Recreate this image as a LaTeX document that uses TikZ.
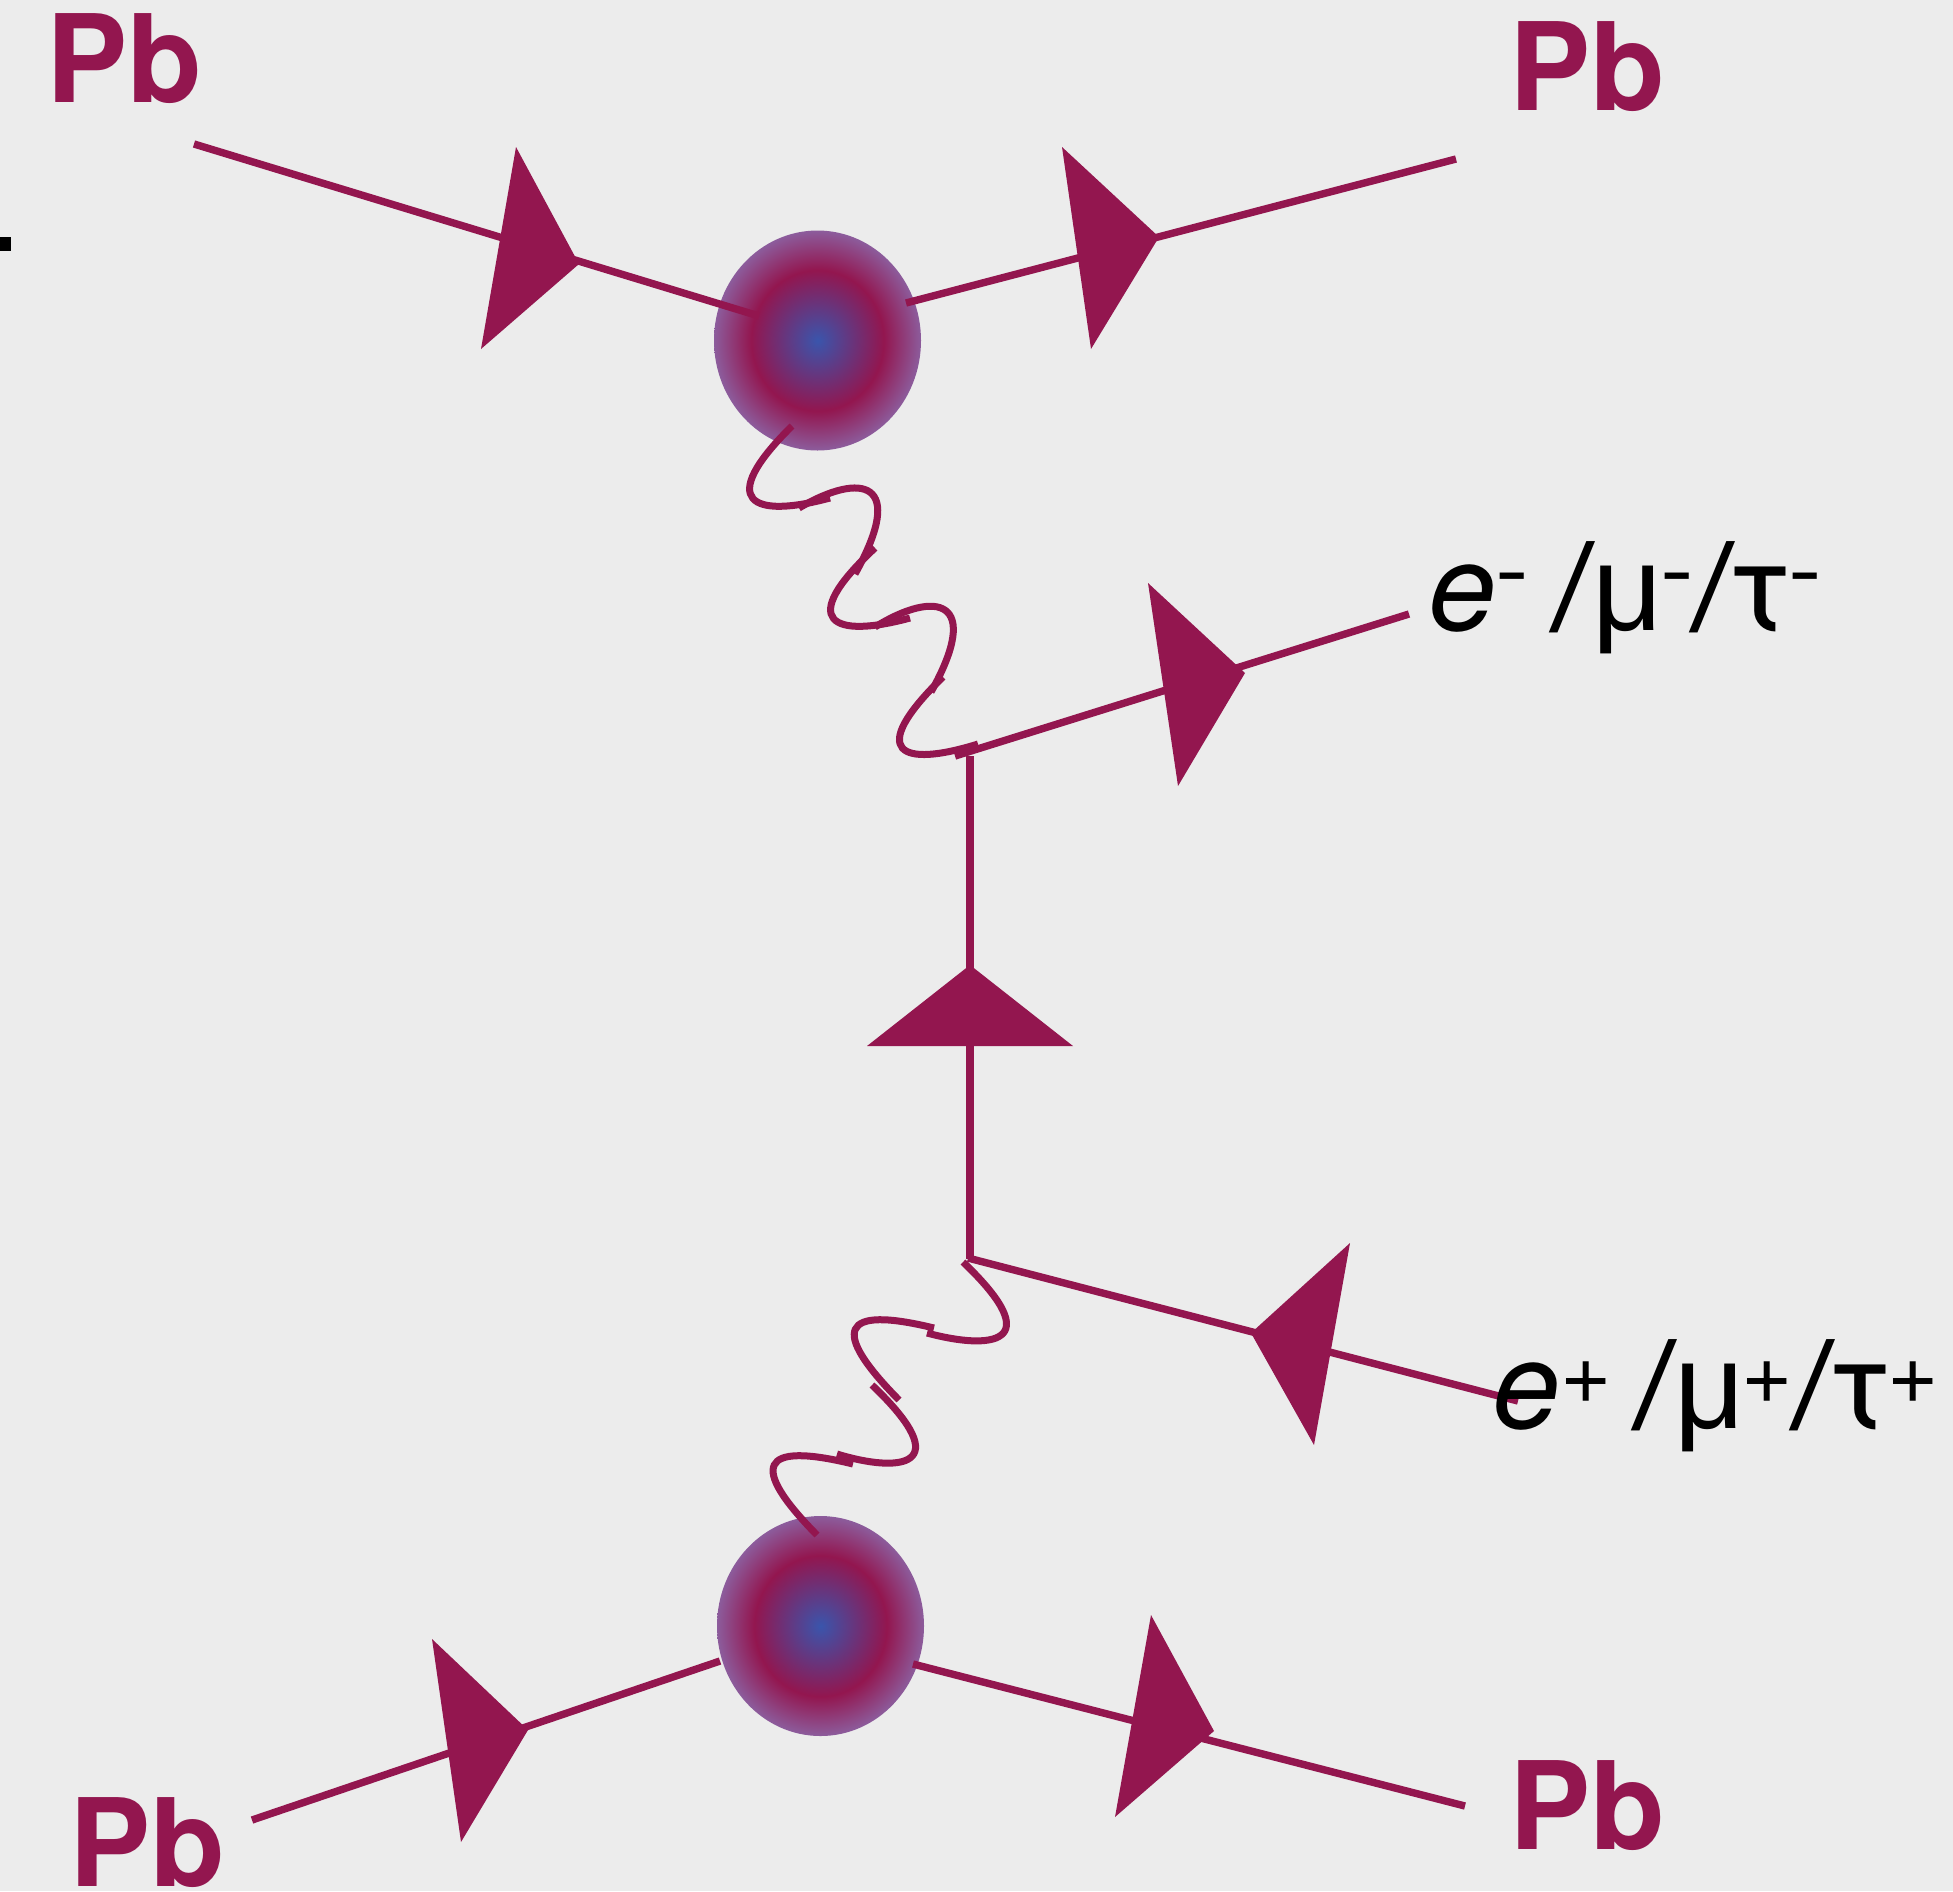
\documentclass[tikz,border=0pt]{standalone}
\usepackage{fontspec}
\usepackage{graphicx}
\setmainfont{TeX Gyre Heros}
\newfontfamily\mufont{Liberation Sans}
\usetikzlibrary{shapes.geometric}
\definecolor{crim}{HTML}{93164F}
\definecolor{bgc}{HTML}{ECECEC}
\definecolor{blobc}{HTML}{3A55AC}
\definecolor{blobe}{HTML}{8C5C9C}
\pgfdeclareradialshading{blob}{\pgfpointorigin}{color(0bp)=(blobc); color(16bp)=(crim); color(25bp)=(blobe); color(100bp)=(blobe)}
\newcommand{\slotbox}[2]{\makebox[#1pt][l]{#2}}
\newcommand{\mainsz}{\fontsize{61}{61}\selectfont}
\newcommand{\supsz}{\fontsize{44}{44}\selectfont}
\newcommand{\minusup}{\raisebox{15pt}{\supsz\scalebox{1.15}[1]{-}}}
\newcommand{\plusup}{\raisebox{12.5pt}{\supsz +}}
\newcommand{\wideslash}{\scalebox{1.3}[1]{/}}
\newcommand{\muglyph}{{\mufont μ}}
\newcommand{\tauglyph}{\scalebox{1.15}[1]{τ}}
\tikzset{
  x=0.5pt,y=-0.5pt,
  fermion/.style={draw=crim,line width=3.7pt,line cap=butt},
  vertline/.style={draw=crim,line width=4pt,line cap=butt},
  photon/.style={draw=crim,line width=3.5pt,line cap=butt},
  arrowhd/.style={fill=crim,draw=none},
  blobnode/.style={ellipse,inner sep=0pt,draw=none,shade,shading=blob,minimum width=103.5pt,minimum height=110pt},
  pblabel/.style={anchor=base west,inner sep=0pt,text=crim,font=\bfseries\fontsize{61}{61}\selectfont},
  leptonlabel/.style={anchor=base west,inner sep=0pt,text=black,font=\mainsz}
}
\begin{document}
\begin{tikzpicture}
\fill[bgc] (0,0) rectangle (1953,1891);
\useasboundingbox (0,0) rectangle (1953,1891);
\fill[black] (0,237) rectangle (11,251);

% blobs
\node[blobnode] (blobT) at (817.5,340.5) {};
\node[blobnode] (blobB) at (820.5,1626) {};

% line end points
\coordinate (tlA) at (194,144);  \coordinate (tlB) at (759,316);
\coordinate (trA) at (906,303);  \coordinate (trB) at (1456,159);
\coordinate (muA) at (955,756);  \coordinate (muB) at (1409,614);
\coordinate (vtA) at (970,756);  \coordinate (vtB) at (970,1259);
\coordinate (epA) at (968,1258); \coordinate (epB) at (1518,1401);
\coordinate (blA) at (252,1820); \coordinate (blB) at (720,1661);
\coordinate (brA) at (913,1664); \coordinate (brB) at (1465,1806);

% fermion lines
\path[fermion] (tlA) -- (tlB);
\path[fermion] (trA) -- (trB);
\path[fermion] (muA) -- (muB);
\path[vertline] (vtA) -- (vtB);
\path[fermion] (epA) -- (epB);
\path[fermion] (blA) -- (blB);
\path[fermion] (brA) -- (brB);

% arrowheads
\path[arrowhd] (516,147) -- (579,264) -- (481,349) -- cycle;
\path[arrowhd] (1062,147) -- (1159,237) -- (1091,349) -- cycle;
\path[arrowhd] (1148,583) -- (1245,673) -- (1178,786) -- cycle;
\path[arrowhd] (867,1046) -- (970,965) -- (1073,1046) -- cycle;
\path[arrowhd] (1350,1243) -- (1251,1333) -- (1314,1445) -- cycle;
\path[arrowhd] (432,1639) -- (528,1730) -- (461,1842) -- cycle;
\path[arrowhd] (1151,1615) -- (1214,1731) -- (1115,1817) -- cycle;

% upper photon
\coordinate (pa0) at (792,426); \coordinate (pa1) at (830,498);
\coordinate (pb0) at (799,508); \coordinate (pb1) at (855,574);
\coordinate (pc0) at (875,548); \coordinate (pc1) at (910,618);
\coordinate (pd0) at (875,627); \coordinate (pd1) at (931,692);
\coordinate (pe0) at (943,677); \coordinate (pe1) at (978,744);
\path[photon] (pa0) .. controls (715,502) and (752,519) .. (pa1);
\path[photon] (pb0) .. controls (862,471) and (907,481) .. (pb1);
\path[photon] (pc0) .. controls (795,622) and (833,639) .. (pc1);
\path[photon] (pd0) .. controls (936,589) and (983,599) .. (pd1);
\path[photon] (pe0) .. controls (865,753) and (901,768) .. (pe1);

% lower photon
\coordinate (qa0) at (963,1262); \coordinate (qa1) at (927,1333);
\coordinate (qb0) at (934,1328); \coordinate (qb1) at (899,1400);
\coordinate (qc0) at (872,1385); \coordinate (qc1) at (837,1454);
\coordinate (qd0) at (853,1464); \coordinate (qd1) at (817,1535);
\path[photon] (qa0) .. controls (1050,1345) and (990,1350) .. (qa1);
\path[photon] (qb0) .. controls (840,1305) and (830,1330) .. (qb1);
\path[photon] (qc0) .. controls (959,1468) and (899,1473) .. (qc1);
\path[photon] (qd0) .. controls (759,1441) and (749,1466) .. (qd1);

% labels
\node[pblabel] (pbTL) at (46,102) {Pb};
\node[pblabel] (pbTR) at (1509,110) {Pb};
\node[pblabel] (pbBR) at (1509,1849) {Pb};
\node[pblabel] (pbBL) at (69,1886) {Pb};
\node[leptonlabel] (lepminus) at (1428,630) {\slotbox{33.5}{\itshape e}\slotbox{27.5}{\minusup}\slotbox{21}{\wideslash}\slotbox{34}{\muglyph}\slotbox{15}{\minusup}\slotbox{20.5}{\wideslash}\slotbox{28.5}{\hspace{-3pt}\tauglyph}\minusup};
\node[leptonlabel] (lepplus) at (1492,1428) {\slotbox{34}{\itshape e}\slotbox{36}{\plusup}\slotbox{21}{\wideslash}\slotbox{33.5}{\muglyph}\slotbox{24.5}{\plusup}\slotbox{20.5}{\wideslash}\slotbox{28}{\hspace{-3pt}\tauglyph}\plusup};
\end{tikzpicture}
\end{document}
